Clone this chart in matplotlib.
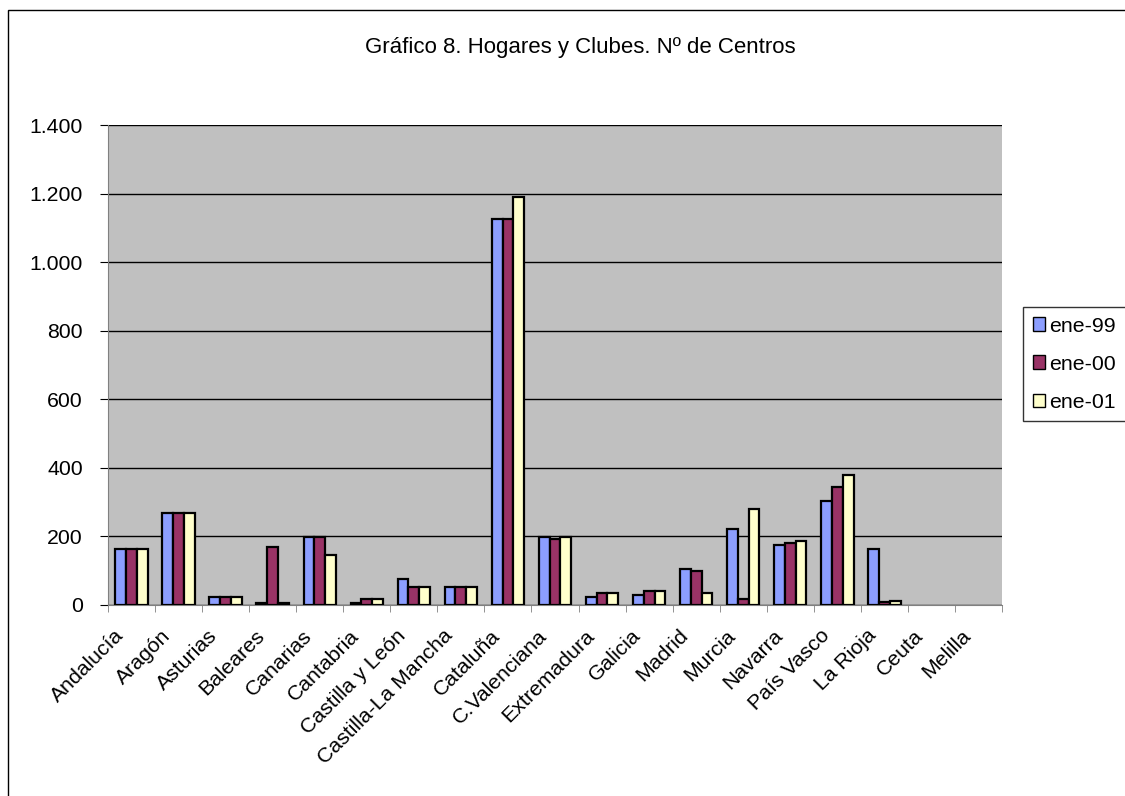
import numpy as np
import matplotlib.pyplot as plt
from matplotlib.patches import Rectangle
from matplotlib.ticker import FuncFormatter
from matplotlib.transforms import ScaledTranslation

plt.rcParams['font.family'] = ['Liberation Sans', 'DejaVu Sans']

# data
regiones = ['Andalucía', 'Aragón', 'Asturias', 'Baleares', 'Canarias', 'Cantabria',
            'Castilla y León', 'Castilla-La Mancha', 'Cataluña', 'C.Valenciana',
            'Extremadura', 'Galicia', 'Madrid', 'Murcia', 'Navarra', 'País Vasco',
            'La Rioja', 'Ceuta', 'Melilla']
ene_99 = [163, 267, 23, 5, 197, 5, 76, 53, 1126, 197, 23, 29, 105, 221, 174, 303, 163, 0, 0]
ene_00 = [163, 267, 23, 169, 197, 18, 53, 53, 1126, 192, 34, 41, 98, 17, 180, 343, 9, 0, 0]
ene_01 = [163, 267, 23, 5, 146, 18, 53, 53, 1190, 197, 34, 41, 34, 279, 186, 379, 11, 0, 0]
series = ['ene-99', 'ene-00', 'ene-01']
colores = ['#8C9EFF', '#993366', '#FFFFCC']

fig = plt.figure(figsize=(11.25, 7.96), dpi=100)
# chart border like the spreadsheet frame
fig.patches.append(Rectangle((8 / 1125, -0.01), 1.02, 1 - 10 / 796 + 0.01,
                             transform=fig.transFigure, fill=False,
                             edgecolor='black', linewidth=1.0))

ax = fig.add_axes([108 / 1125, 1 - 605 / 796, (1002 - 108) / 1125, 480 / 796])
ax.set_facecolor('#C0C0C0')

x = np.arange(len(regiones))
w = 0.23
for i, (vals, col, lab) in enumerate(zip([ene_99, ene_00, ene_01], colores, series)):
    v = np.array(vals, dtype=float)
    v[v == 0] = np.nan  # empty regions draw nothing
    ax.bar(x + (i - 1) * w, v, width=w, color=col, edgecolor='black',
           linewidth=1.6, label=lab, zorder=3)

ax.set_xlim(-0.5, len(regiones) - 0.5)
ax.set_ylim(0, 1400)
ax.set_yticks(range(0, 1401, 200))
ax.yaxis.set_major_formatter(FuncFormatter(lambda v, p: f'{int(v):,}'.replace(',', '.')))
ax.yaxis.grid(True, color='black', linewidth=1.0, zorder=1)
ax.set_axisbelow(True)

ax.set_xticks(x)
ax.set_xticklabels(regiones, rotation=45, ha='right', va='center', rotation_mode='anchor')
ax.set_xticks(np.arange(-0.5, len(regiones)), minor=True)
ax.tick_params(axis='x', which='major', length=0, pad=20, labelsize=15.3)
ax.tick_params(axis='x', which='minor', length=5, color='gray')
ax.tick_params(axis='y', length=6, color='black', labelsize=15.3, pad=12)
shift = ScaledTranslation(-11 / 100, 0, fig.dpi_scale_trans)
for t in ax.get_xticklabels():
    t.set_transform(t.get_transform() + shift)

for s in ['top', 'right']:
    ax.spines[s].set_visible(False)
ax.spines['left'].set_color('gray')
ax.spines['bottom'].set_color('gray')

fig.text(580 / 1125, 1 - 47 / 796, 'Gráfico 8. Hogares y Clubes. Nº de Centros',
         ha='center', va='center', fontsize=16)

leg = ax.legend(loc='upper left', bbox_to_anchor=(1023 / 1125, 1 - 307 / 796),
                bbox_transform=fig.transFigure, fontsize=15.3, frameon=True,
                fancybox=False, edgecolor='black', handlelength=0.6,
                handleheight=0.6, handletextpad=0.2, labelspacing=0.9,
                borderpad=0.45, borderaxespad=0)
leg.get_frame().set_linewidth(1.0)
for h in leg.legend_handles:
    h.set_linewidth(1.0)

fig.savefig('out.png', dpi=100)
